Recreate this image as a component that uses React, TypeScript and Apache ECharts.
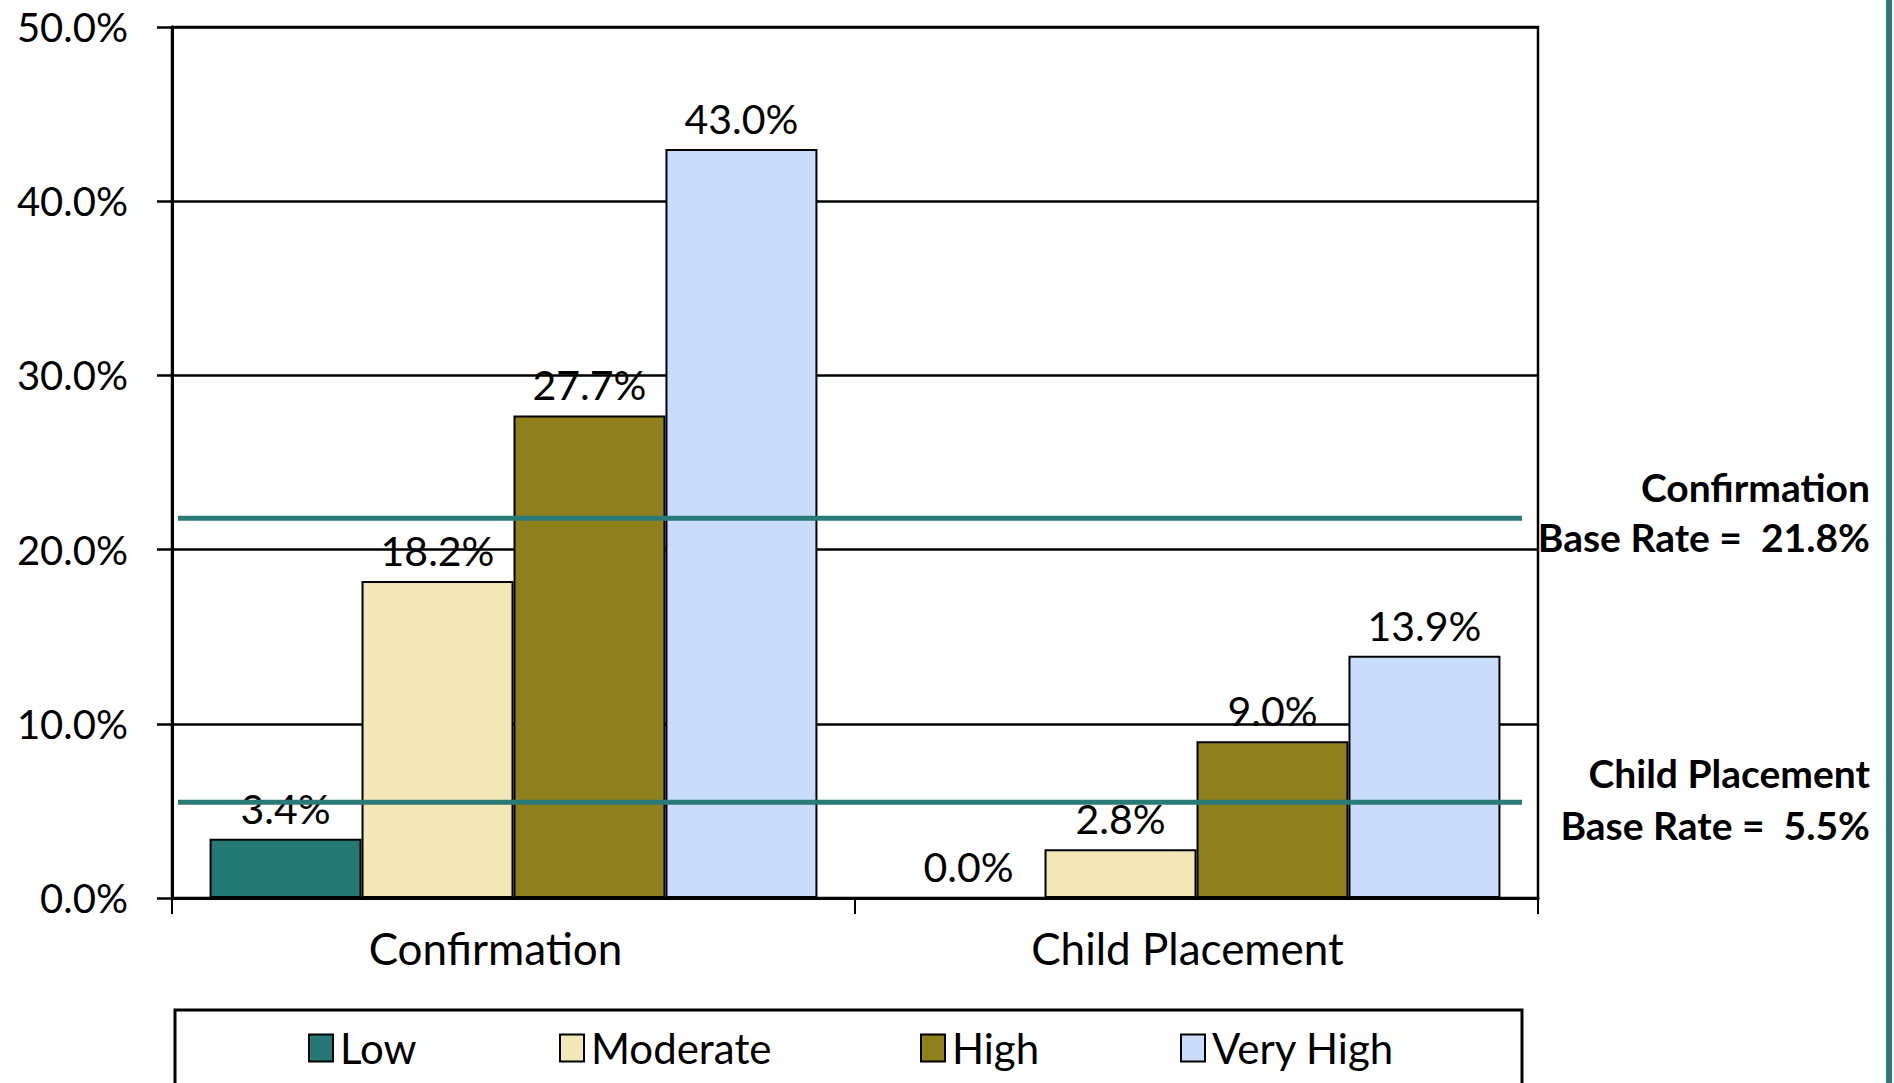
import React, { useEffect, useRef } from "react";
import * as echarts from "echarts";

// Outcome categories on the x axis
const categories = ["Confirmation", "Child Placement"];

// Risk levels (one bar series each)
const levels = ["Low", "Moderate", "High", "Very High"];
const lowValues = [3.4, 0.0];
const moderateValues = [18.2, 2.8];
const highValues = [27.7, 9.0];
const veryHighValues = [43.0, 13.9];
const levelColors = ["#267874", "#f2e8b7", "#8f7f1d", "#c9dcfb"];

// Base rates drawn as horizontal reference lines
const baseRateNames = ["Confirmation", "Child Placement"];
const baseRates = [21.8, 5.5];

// Y axis range (percent)
const yMin = 0;
const yMax = 50;
const yInterval = 10;

const FONT = "Lato, 'Open Sans', sans-serif";
const TEAL = "#2a7b78";

const pct = (v: number) => `${v.toFixed(1)}%`;

export default function App() {
  const ref = useRef<HTMLDivElement>(null);

  useEffect(() => {
    if (!ref.current) return;
    const chart = echarts.init(ref.current, undefined, { renderer: "svg" });

    const seriesValues = [lowValues, moderateValues, highValues, veryHighValues];
    const legendLefts = [308, 559, 920, 1180];

    const option: any = {
      animation: false,
      backgroundColor: "#ffffff",
      textStyle: { fontFamily: FONT },
      grid: {
        left: 172,
        right: 356,
        top: 27,
        bottom: 185,
        show: true,
        borderColor: "#000",
        borderWidth: 2.5,
        backgroundColor: "transparent",
      },
      xAxis: {
        type: "category",
        data: categories,
        axisLine: { show: true, lineStyle: { color: "#000", width: 3 } },
        axisTick: { show: true, length: 16, lineStyle: { color: "#000", width: 2 } },
        axisLabel: {
          margin: 28,
          fontSize: 44,
          fontFamily: FONT,
          color: "#000",
          // category names sit a little left of the band centre
          formatter: (v: string, i: number) => (i === 0 ? `{a|${v}}` : `{b|${v}}`),
          rich: {
            a: { fontSize: 44, fontFamily: FONT, color: "#000", padding: [0, 36, 0, 0] },
            b: { fontSize: 44, fontFamily: FONT, color: "#000", padding: [0, 18, 0, 0] },
          },
        },
        splitLine: { show: false },
      },
      yAxis: {
        type: "value",
        min: yMin,
        max: yMax,
        interval: yInterval,
        axisLine: { show: true, lineStyle: { color: "#000", width: 3 } },
        axisTick: { show: true, length: 15, lineStyle: { color: "#000", width: 2.5 } },
        axisLabel: {
          margin: 44,
          fontSize: 40,
          fontFamily: FONT,
          color: "#000",
          formatter: (v: number) => pct(v),
        },
        splitLine: { show: true, lineStyle: { color: "#000", width: 2.5 } },
      },
      legend: levels.map((name, i) => ({
        data: [name],
        left: legendLefts[i],
        top: 1027,
        padding: 0,
        icon: "rect",
        itemWidth: 24,
        itemHeight: 27,
        itemGap: 0,
        itemStyle: { borderColor: "#000", borderWidth: 2 },
        textStyle: {
          fontSize: 42,
          lineHeight: 42,
          fontFamily: FONT,
          color: "#000",
          padding: [0, 0, 0, 2],
        },
      })),
      series: levels.map((name, i) => ({
        name,
        type: "bar",
        data: seriesValues[i],
        barGap: "0%",
        barCategoryGap: "11%",
        itemStyle: {
          color: levelColors[i],
          borderColor: "#000",
          borderWidth: 2,
        },
        label: {
          show: true,
          position: "top",
          distance: 10,
          fontSize: 41,
          fontFamily: FONT,
          color: "#000",
          formatter: (p: any) => pct(p.value),
        },
      })),
    };

    chart.setOption(option);

    // Reference lines positioned through the value axis scale
    const lineYs = baseRates.map((v) => chart.convertToPixel({ yAxisIndex: 0 }, v) as number);
    const textRight = 1870;
    const textBlocks = [
      { top: 487, bottom: 537 },
      { top: 773, bottom: 825 },
    ];

    const graphic: any[] = [
      {
        type: "rect",
        z: 100,
        shape: { x: 1886, y: 0, width: 6, height: 1083 },
        style: { fill: TEAL },
      },
      {
        type: "rect",
        z: 100,
        shape: { x: 175, y: 1010, width: 1347, height: 120 },
        style: { fill: "none", stroke: "#000", lineWidth: 3 },
      },
    ];

    lineYs.forEach((y, i) => {
      graphic.push({
        type: "line",
        z: 100,
        shape: { x1: 178, y1: y, x2: 1522, y2: y },
        style: { stroke: TEAL, lineWidth: 5 },
      });
      graphic.push({
        type: "text",
        z: 100,
        x: textRight,
        y: textBlocks[i].top,
        style: {
          text: baseRateNames[i],
          fontSize: 39,
          fontWeight: "bold",
          fontFamily: FONT,
          fill: "#000",
          align: "right",
          verticalAlign: "middle",
        },
      });
      graphic.push({
        type: "text",
        z: 100,
        x: textRight,
        y: textBlocks[i].bottom,
        style: {
          text: `Base Rate =  ${pct(baseRates[i])}`,
          fontSize: 39,
          fontWeight: "bold",
          fontFamily: FONT,
          fill: "#000",
          align: "right",
          verticalAlign: "middle",
        },
      });
    });

    chart.setOption({ graphic });

    return () => {
      chart.dispose();
    };
  }, []);

  return (
    <div
      ref={ref}
      style={{ position: "absolute", left: 0, top: 0, width: 1894, height: 1083 }}
    />
  );
}
